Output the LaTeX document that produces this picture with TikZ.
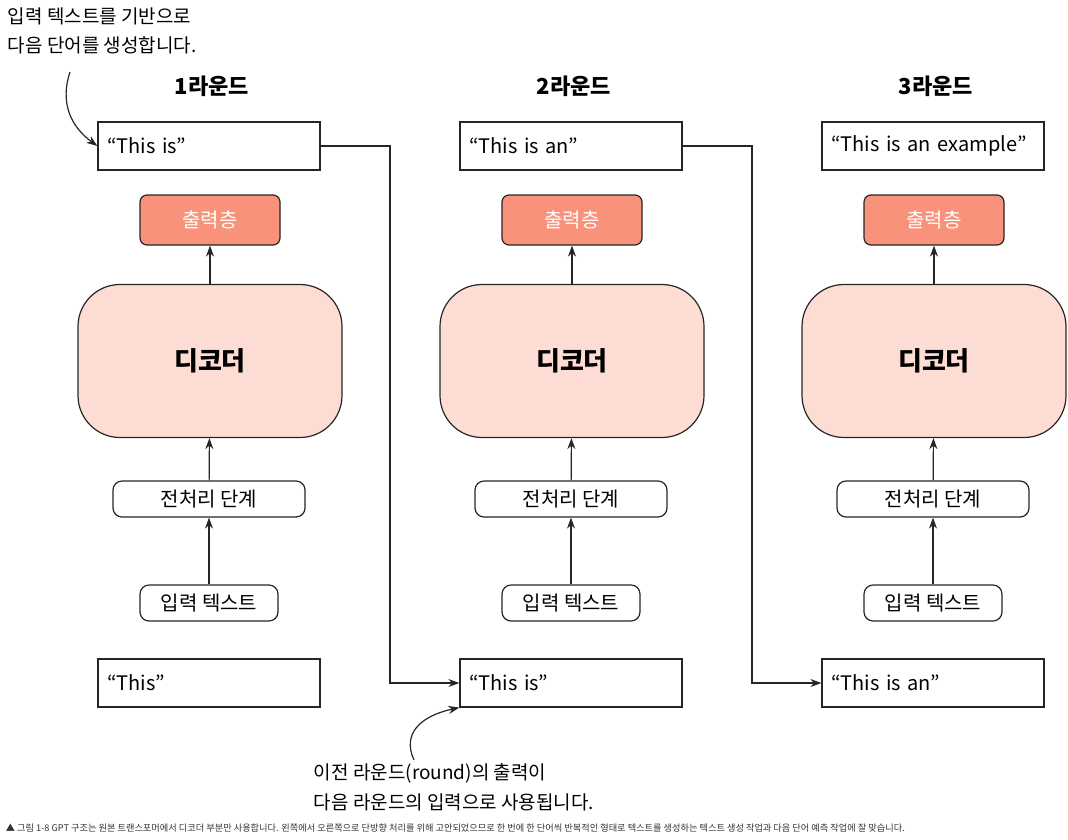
\documentclass[tikz,border=0pt]{standalone}
\usepackage{fontspec}
\setmainfont{Noto Sans CJK KR}
\usetikzlibrary{arrows.meta}
\definecolor{outfill}{HTML}{F9927A}
\definecolor{decfill}{HTML}{FDDDD3}
\begin{document}
\begin{tikzpicture}[x=1pt,y=-1pt,line width=1.2pt,
    txtbox/.style={draw=black!85,fill=white,minimum width=222pt,minimum height=48pt,
        text width=204pt,align=left,font=\fontsize{20}{24}\selectfont},
    outbox/.style={draw=black!85,fill=outfill,rounded corners=7pt,minimum width=140pt,
        minimum height=50pt,text=white,font=\fontsize{20}{24}\selectfont},
    decbox/.style={draw=black!85,fill=decfill,rounded corners=42pt,minimum width=264pt,
        minimum height=153pt,font=\bfseries\fontsize{26}{30}\selectfont},
    stepbox/.style={draw=black!85,fill=white,rounded corners=9pt,minimum height=36pt,
        font=\fontsize{20}{24}\selectfont},
    arr/.style={-{Stealth[length=11pt,width=8pt]},black!85,line width=1.2pt}]
\useasboundingbox (0,0) rectangle (1068,839);

% three rounds
\foreach \n/\c/\t/\b in {1/0/{“This is”}/{“This”},2/362/{“This is an”}/{“This is”},
        3/724/{“This is an example”}/{“This is an”}} {
    \node[font=\bfseries\fontsize{22}{26}\selectfont] (title\n) at (212+\c,86) {{\n}라운드};
    \node[txtbox] (top\n) at (209+\c,146) {\t};
    \node[outbox] (out\n) at (210+\c,220) {출력층};
    \node[decbox] (dec\n) at (210+\c,361) {디코더};
    \node[stepbox,minimum width=192pt] (pre\n) at (209+\c,499) {전처리 단계};
    \node[stepbox,minimum width=138pt] (inp\n) at (209+\c,603) {입력 텍스트};
    \node[txtbox] (bot\n) at (209+\c,683) {\b};
    \draw[arr] (inp\n) -- (pre\n);
    \draw[arr] (pre\n) -- (dec\n);
    \draw[arr] (dec\n) -- (out\n);
}

% output feeds next round
\draw[arr] (top1.east) -| (390,683) -- (bot2.west);
\draw[arr] (top2.east) -| (752,683) -- (bot3.west);

% notes
\node[anchor=north west,align=left,font=\fontsize{19}{29}\selectfont] (note1) at (4,4)
    {입력 텍스트를 기반으로\\다음 단어를 생성합니다.};
\draw[arr] (70,72) .. controls (60,102) and (70,126) .. (top1.west);
\node[anchor=north west,align=left,font=\fontsize{19}{30}\selectfont] (note2) at (310,760)
    {이전 라운드(round)의 출력이\\다음 라운드의 입력으로 사용됩니다.};
\draw[arr] (414,760) .. controls (402,734) and (420,716) .. (bot2.south west);

\node[anchor=west,font=\fontsize{9.2}{11}\selectfont,black!80] (cap) at (2,828)
    {▲ 그림 1-8 GPT 구조는 원본 트랜스포머에서 디코더 부분만 사용합니다. 왼쪽에서 오른쪽으로 단방향 처리를 위해 고안되었으므로 한 번에 한 단어씩 반복적인 형태로 텍스트를 생성하는 텍스트 생성 작업과 다음 단어 예측 작업에 잘 맞습니다.};
\end{tikzpicture}
\end{document}
